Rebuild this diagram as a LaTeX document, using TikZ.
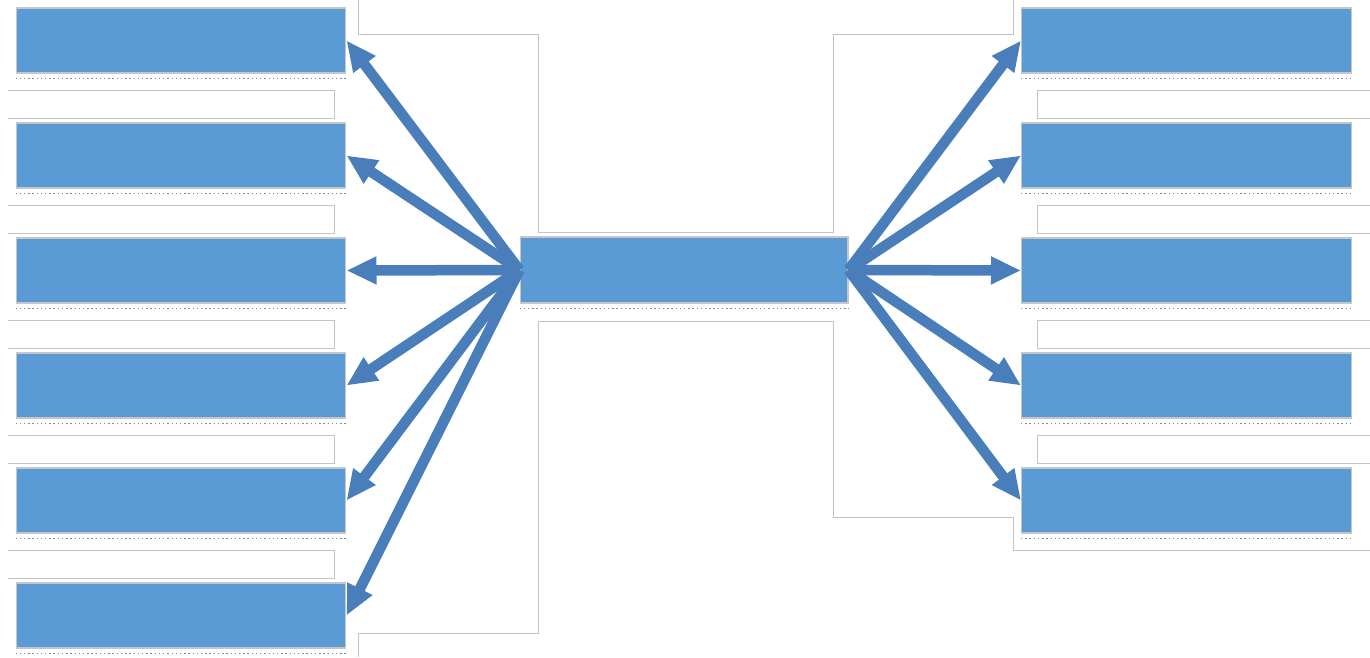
\documentclass[tikz,border=0pt]{standalone}
\usetikzlibrary{arrows.meta}
\definecolor{boxblue}{HTML}{5B9BD5}
\definecolor{spokeblue}{HTML}{4A7EBB}
\definecolor{framegray}{HTML}{C4C4C4}

\begin{document}
\begin{tikzpicture}[
    x=0.02cm, y=-0.02cm,
    leaf/.style={
      draw=gray!45,
      line width=0.6pt,
      fill=boxblue,
      minimum width=6.6cm,
      minimum height=1.3cm,
      inner sep=0pt
    },
    hubbox/.style={
      leaf,
      minimum width=6.56cm,
      minimum height=1.32cm
    },
    spoke/.style={draw=spokeblue, line width=0.21cm, -{Triangle[length=0.6cm, width=0.52cm]}},
    frame/.style={draw=framegray, line width=0.5pt},
    dotrow/.style={draw=gray!50!boxblue, line width=1.1pt, dash pattern=on 0.8pt off 1.6pt}
  ]
    \useasboundingbox (0,0) rectangle (1370,657);

    % thin gray outlines behind the boxes
    \draw[frame] (358,0) |- (538,34) -- (538,232) -- (833,232) -- (833,34) -| (1013,0);
    \draw[frame] (358,657) |- (538,633) -- (538,321) -- (833,321) -- (833,517) -| (1013,550) -- (1370,550);
    \draw[frame] (8,90) -| (334,118) -- (8,118);
    \draw[frame] (8,205) -| (334,233) -- (8,233);
    \draw[frame] (8,320) -| (334,348) -- (8,348);
    \draw[frame] (8,435) -| (334,463) -- (8,463);
    \draw[frame] (8,550) -| (334,578) -- (8,578);
    \draw[frame] (1370,90) -| (1037,118) -- (1370,118);
    \draw[frame] (1370,205) -| (1037,233) -- (1370,233);
    \draw[frame] (1370,320) -| (1037,348) -- (1370,348);
    \draw[frame] (1370,435) -| (1037,463) -- (1370,463);

    \node[leaf] (l1) at (181,40.5) {};
    \node[leaf] (l2) at (181,155.5) {};
    \node[leaf] (l3) at (181,270.5) {};
    \node[leaf] (l4) at (181,385.5) {};
    \node[leaf] (l5) at (181,500.5) {};
    \node[leaf] (l6) at (181,615.5) {};

    \node[leaf] (r1) at (1186.5,40.5) {};
    \node[leaf] (r2) at (1186.5,155.5) {};
    \node[leaf] (r3) at (1186.5,270.5) {};
    \node[leaf] (r4) at (1186.5,385.5) {};
    \node[leaf] (r5) at (1186.5,500.5) {};

    \node[hubbox] (hub) at (684,270) {};

    % dotted shadows under the boxes
    \draw[dotrow] ([yshift=-0.1cm]l1.south west) -- ([yshift=-0.1cm]l1.south east);
    \draw[dotrow] ([yshift=-0.1cm]l2.south west) -- ([yshift=-0.1cm]l2.south east);
    \draw[dotrow] ([yshift=-0.1cm]l3.south west) -- ([yshift=-0.1cm]l3.south east);
    \draw[dotrow] ([yshift=-0.1cm]l4.south west) -- ([yshift=-0.1cm]l4.south east);
    \draw[dotrow] ([yshift=-0.1cm]l5.south west) -- ([yshift=-0.1cm]l5.south east);
    \draw[dotrow] ([yshift=-0.1cm]l6.south west) -- ([yshift=-0.1cm]l6.south east);
    \draw[dotrow] ([yshift=-0.1cm]r1.south west) -- ([yshift=-0.1cm]r1.south east);
    \draw[dotrow] ([yshift=-0.1cm]r2.south west) -- ([yshift=-0.1cm]r2.south east);
    \draw[dotrow] ([yshift=-0.1cm]r3.south west) -- ([yshift=-0.1cm]r3.south east);
    \draw[dotrow] ([yshift=-0.1cm]r4.south west) -- ([yshift=-0.1cm]r4.south east);
    \draw[dotrow] ([yshift=-0.1cm]r5.south west) -- ([yshift=-0.1cm]r5.south east);
    \draw[dotrow] ([yshift=-0.1cm]hub.south west) -- ([yshift=-0.1cm]hub.south east);

    \draw[spoke] (hub.west) -- (l1.east);
    \draw[spoke] (hub.west) -- (l2.east);
    \draw[spoke] (hub.west) -- (l3.east);
    \draw[spoke] (hub.west) -- (l4.east);
    \draw[spoke] (hub.west) -- (l5.east);
    \draw[spoke] (hub.west) -- (l6.east);

    \draw[spoke] (hub.east) -- (r1.west);
    \draw[spoke] (hub.east) -- (r2.west);
    \draw[spoke] (hub.east) -- (r3.west);
    \draw[spoke] (hub.east) -- (r4.west);
    \draw[spoke] (hub.east) -- (r5.west);
  \end{tikzpicture}
\end{document}
